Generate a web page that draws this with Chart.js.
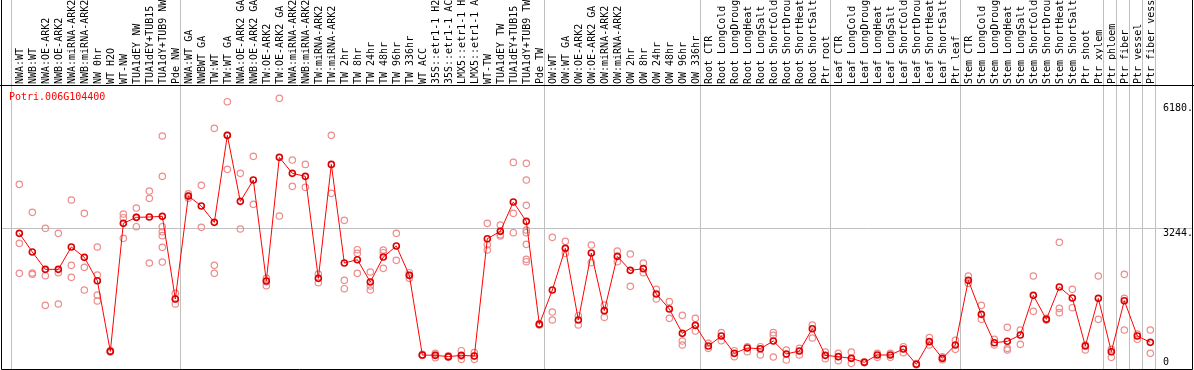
<!DOCTYPE html>
<html>
<head>
<meta charset="utf-8">
<script src="https://cdn.jsdelivr.net/npm/chart.js@4/dist/chart.umd.min.js"></script>
<style>
  html, body { margin: 0; padding: 0; background: #fff; }
  #wrap { width: 1194px; height: 370px; }
</style>
</head>
<body>
<div id="wrap"><canvas id="chart" width="1194" height="370"></canvas></div>
<script>
// Sample names, as printed on top of the chart
const categories = [
  'NWA:WT', 'NWB:WT', 'NWA:OE-ARK2', 'NWB:OE-ARK2', 'NWA:miRNA-ARK2', 'NWB:miRNA-ARK2',
  'NW 0hr', 'WT H2O', 'WT-NW', 'TUA1dEY NW', 'TUA1dEY+TUB15', 'TUA1dY+TUB9 NW', 'Pde NW',
  'NWA:WT GA', 'NWBWT GA', 'TW:WT', 'TW:WT GA', 'NWA:OE-ARK2 GA', 'NWB:OE-ARK2 GA',
  'TW:OE-ARK2', 'TW:OE-ARK2 GA', 'NWA:miRNA-ARK2', 'NWB:miRNA-ARK2', 'TW:miRNA-ARK2',
  'TW:miRNA-ARK2', 'TW 2hr', 'TW 8hr', 'TW 24hr', 'TW 48hr', 'TW 96hr', 'TW 336hr', 'WT ACC',
  '35S::etr1-1 H2', '35S::etr1-1 AC', 'LMX5::etr1-1 H', 'LMX5::etr1-1 A', 'WT-TW',
  'TUA1dEY TW', 'TUA1dEY+TUB15', 'TUA1dY+TUB9 TW', 'Pde TW',
  'OW:WT', 'OW:WT GA', 'OW:OE-ARK2', 'OW:OE-ARK2 GA', 'OW:miRNA-ARK2', 'OW:miRNA-ARK2',
  'OW 2hr', 'OW 8hr', 'OW 24hr', 'OW 48hr', 'OW 96hr', 'OW 336hr',
  'Root CTR', 'Root LongCold', 'Root LongDroug', 'Root LongHeat', 'Root LongSalt',
  'Root ShortCold', 'Root ShortDrou', 'Root ShortHeat', 'Root ShortSalt', 'Ptr root',
  'Leaf CTR', 'Leaf LongCold', 'Leaf LongDroug', 'Leaf LongHeat', 'Leaf LongSalt',
  'Leaf ShortCold', 'Leaf ShortDrou', 'Leaf ShortHeat', 'Leaf ShortSalt', 'Ptr leaf',
  'Stem CTR', 'Stem LongCold', 'Stem LongDroug', 'Stem LongHeat', 'Stem LongSalt',
  'Stem ShortCold', 'Stem ShortDrou', 'Stem ShortHeat', 'Stem ShortSalt', 'Ptr shoot',
  'Ptr xylem', 'Ptr phloem', 'Ptr fiber', 'Ptr vessel', 'Ptr fiber vess'
];

// Mean expression per sample (red line)
const means = [
  3123, 2684, 2276, 2276, 2801, 2558, 2009, 347, 3358, 3499, 3507, 3522, 1578,
  4001, 3766, 3381, 5428, 3875, 4377, 2002, 4910, 4534, 4463, 2064, 4745, 2425,
  2503, 1978, 2566, 2825, 2135, 261, 253, 222, 253, 237, 2997, 3170, 3860, 3405,
  982, 1790, 2770, 1084, 2660, 1304, 2582, 2252, 2292, 1696, 1343, 771,
  959, 473, 708, 300, 426, 410, 590, 285, 355, 880,
  253, 222, 183, 88, 261, 261, 402, 42, 575, 183,
  496, 2017, 1218, 551, 583, 732, 1664, 1100, 1860, 1602, 473,
  1594, 339, 1539, 708, 559
];

// Individual replicates per sample (light red circles)
const replicates = [
  [4275, 2887, 2182], [3617, 2190, 2160], [3240, 2127, 1429], [3123, 2197, 1461],
  [3907, 2370, 2088], [3593, 2323, 1790], [2801, 2143, 1672, 1531], [330, 350, 360],
  [3577, 3491, 3005], [3718, 3499, 3279], [4118, 3946, 2425],
  [5412, 4463, 3279, 3162, 3068, 2793, 2448], [1712, 1578, 1461],
  [4050, 4001, 3950], [4252, 3264], [5592, 2370, 2182], [6219, 5428, 4628],
  [4534, 3225], [4934, 3805], [2064, 1986, 1892], [6298, 3530], [4847, 4228],
  [4745, 4205], [2166, 1962], [5428, 4063], [3428, 2017, 1821], [2738, 2652, 2182],
  [2213, 1884, 1790], [2731, 2668, 2299], [3123, 2488], [2197, 2135, 2064],
  [250, 260, 275], [300, 260, 198], [240, 220, 206], [363, 237, 159], [316, 237, 159],
  [3358, 2856, 2731], [3319, 3091, 3060], [4792, 3593, 3138],
  [4769, 4377, 3781, 3201, 3138, 2864, 2511, 2456],
  [1000, 967, 980], [3029, 1272, 1084], [2935, 2652], [1186, 967], [2848, 2433],
  [1437, 1147], [2707, 2456], [2637, 1876], [2425, 2197], [1806, 1578], [1516, 1123],
  [1194, 590, 496],
  [1123, 825], [536, 418], [787, 598], [363, 222], [457, 339], [457, 261],
  [787, 724, 214], [379, 143], [418, 261], [967, 661],
  [332, 175], [300, 128], [332, 65], [104, 80], [300, 206], [300, 206], [457, 316],
  [60, 30], [669, 496], [220, 150],
  [606, 394], [2119, 1947], [1429, 1100], [630, 496], [912, 418, 379], [849, 512],
  [2119, 1288], [1123, 1084], [2911, 1359, 1257], [1806, 1374], [496, 379],
  [2119, 1100], [394, 206], [2158, 1594, 849], [755, 630], [849, 300]
];

// Samples after which a group separator is drawn (-1 = before the first)
const groupEnds = [-1, 12, 40, 52, 62, 72, 83, 84, 85, 86, 87];

const yTicks = [0, 3244, 6180];
const geneName = 'Potri.006G104400';

const FONT = { family: '"DejaVu Sans Mono", "Liberation Mono", monospace', size: 10 };

const meanPoints = means.map((v, i) => ({ x: i, y: v }));
const repPoints = [];
replicates.forEach((reps, i) => reps.forEach(v => repPoints.push({ x: i, y: v })));

// Frame, group separators and gene name
const framePlugin = {
  id: 'frame',
  beforeDatasetsDraw(chart) {
    const { ctx, chartArea, scales } = chart;
    ctx.save();
    ctx.strokeStyle = '#c0c0c0';
    ctx.lineWidth = 1;
    groupEnds.forEach(i => {
      const x = Math.round(scales.x.getPixelForValue(i + 5 / 13)) + 0.5;
      ctx.beginPath();
      ctx.moveTo(x, 0);
      ctx.lineTo(x, chartArea.bottom);
      ctx.stroke();
    });
    ctx.fillStyle = '#ff0000';
    ctx.font = `${FONT.size}px ${FONT.family}`;
    ctx.textBaseline = 'middle';
    ctx.fillText(geneName, 9, chartArea.top + 12);
    ctx.restore();
  },
  afterDraw(chart) {
    const { ctx, chartArea, width } = chart;
    ctx.save();
    ctx.strokeStyle = '#000';
    ctx.lineWidth = 1;
    ctx.beginPath();
    ctx.moveTo(1.5, 0);
    ctx.lineTo(1.5, chartArea.bottom + 0.5);
    ctx.lineTo(width - 1.5, chartArea.bottom + 0.5);
    ctx.lineTo(width - 1.5, 0);
    ctx.moveTo(0, chartArea.top + 0.5);
    ctx.lineTo(width, chartArea.top + 0.5);
    ctx.stroke();
    ctx.restore();
  }
};

new Chart(document.getElementById('chart'), {
  type: 'scatter',
  data: {
    datasets: [
      {
        label: 'mean',
        data: meanPoints,
        showLine: true,
        borderColor: '#ff0000',
        borderWidth: 1,
        pointStyle: 'circle',
        pointRadius: 3,
        pointBorderWidth: 1.6,
        pointBorderColor: '#dd0000',
        pointBackgroundColor: 'rgba(0,0,0,0)',
        order: 0
      },
      {
        label: 'replicates',
        data: repPoints,
        pointStyle: 'circle',
        pointRadius: 3.2,
        pointBorderWidth: 1.2,
        pointBorderColor: '#ec8c8c',
        pointBackgroundColor: 'rgba(0,0,0,0)',
        order: 1
      }
    ]
  },
  options: {
    responsive: false,
    animation: false,
    events: [],
    layout: { autoPadding: false, padding: { left: 1, right: 1, top: 0, bottom: 1 } },
    plugins: {
      legend: { display: false },
      tooltip: { enabled: false }
    },
    scales: {
      x: {
        type: 'linear',
        position: 'top',
        min: -1.41,
        max: 87.436,
        afterBuildTicks: scale => {
          scale.ticks = categories.map((_, i) => ({ value: i }));
        },
        afterFit: scale => {
          scale.height = 85;
          scale.paddingLeft = 0;
          scale.paddingRight = 0;
        },
        grid: { display: false, drawTicks: false },
        border: { display: false },
        ticks: {
          autoSkip: false,
          minRotation: 90,
          maxRotation: 90,
          padding: 1,
          labelOffset: 13,
          color: '#000',
          font: FONT,
          callback: v => categories[v]
        }
      },
      y: {
        type: 'linear',
        position: 'right',
        min: -68,
        max: 6612,
        afterBuildTicks: scale => {
          scale.ticks = yTicks.map(v => ({ value: v }));
        },
        afterFit: scale => {
          scale.width = 37;
          scale.paddingTop = 0;
          scale.paddingBottom = 0;
        },
        border: { display: false },
        grid: {
          drawTicks: true,
          tickLength: 36,
          color: ctx => (ctx.tick && ctx.tick.value === 3244 ? '#c0c0c0' : 'rgba(0,0,0,0)')
        },
        ticks: {
          align: 'start',
          padding: -29,
          color: '#000',
          // the 0 label sits above its tick, the others below
          font: ctx => (ctx.tick && ctx.tick.value === 0 ? { ...FONT, lineHeight: 1.7 } : FONT),
          callback: v => (v === 0 ? ['0', ''] : v + '.')
        }
      }
    }
  },
  plugins: [framePlugin]
});
</script>
</body>
</html>
